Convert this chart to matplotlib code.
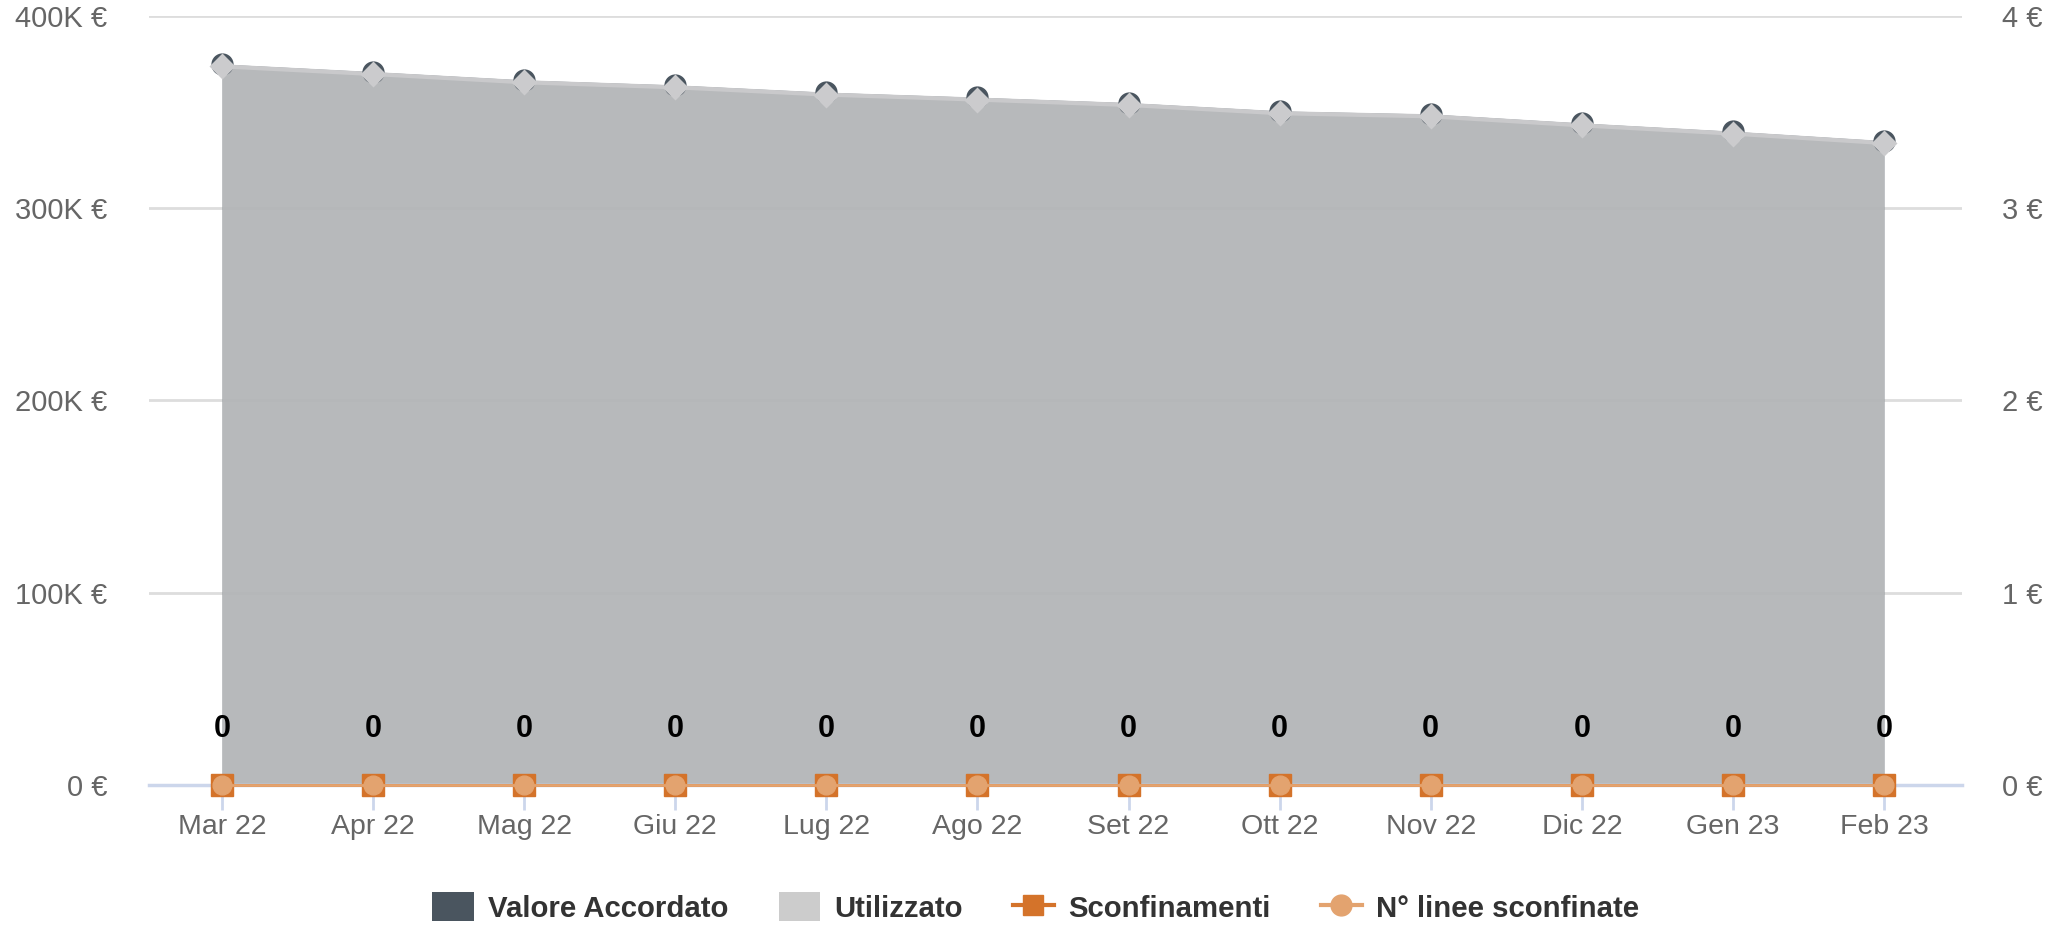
import numpy as np
import matplotlib.pyplot as plt
from matplotlib.patches import Patch
from matplotlib.lines import Line2D

plt.rcParams['font.family'] = ['Liberation Sans', 'DejaVu Sans']

# Dati
mesi = ['Mar 22', 'Apr 22', 'Mag 22', 'Giu 22', 'Lug 22', 'Ago 22',
        'Set 22', 'Ott 22', 'Nov 22', 'Dic 22', 'Gen 23', 'Feb 23']
valore_accordato = [375000, 371000, 366700, 364100, 360300, 357700,
                    354900, 350600, 349000, 344300, 340000, 335100]
utilizzato = [373800, 369800, 365500, 362900, 359100, 356500,
              353700, 349400, 347800, 343100, 338800, 333900]
sconfinamenti = [0, 0, 0, 0, 0, 0, 0, 0, 0, 0, 0, 0]
linee_sconfinate = [0, 0, 0, 0, 0, 0, 0, 0, 0, 0, 0, 0]

y_ticks = [0, 100000, 200000, 300000, 400000]
y_labels = ['0 €', '100K €', '200K €', '300K €', '400K €']
y2_ticks = [0, 1, 2, 3, 4]
y2_labels = ['0 €', '1 €', '2 €', '3 €', '4 €']

# Colori
c_valore = '#4a555f'
c_util = '#cccccc'
c_sconf = '#d4732a'
c_linee = '#e3a36f'
c_testo = '#666666'
c_asse = '#ccd6eb'

fig = plt.figure(figsize=(20.72, 9.27), dpi=100)
ax = fig.add_axes([0.0719, 0.1532, 0.875, 0.8296])
ax2 = ax.twinx()

x = np.arange(len(mesi))

# Aree
ax.fill_between(x, valore_accordato, color=c_valore, alpha=0.72, lw=0, zorder=2)
ax.fill_between(x, utilizzato, color=c_util, alpha=0.75, lw=0, zorder=3)
ax.plot(x, utilizzato, color='#c9c9cb', lw=3, zorder=4)
ax.plot(x, valore_accordato, ls='none', marker='o', ms=15, mfc=c_valore,
        mec=c_valore, zorder=5, clip_on=False)
ax.plot(x, utilizzato, ls='none', marker='D', ms=13, mfc='#cbcbcd',
        mec='none', zorder=6, clip_on=False)

# Sconfinamenti e linee sconfinate (asse destro)
ax2.plot(x, sconfinamenti, color=c_sconf, lw=2, marker='s', ms=15.5,
         mfc=c_sconf, mec=c_sconf, zorder=5, clip_on=False)
ax2.plot(x, linee_sconfinate, color=c_linee, lw=2, marker='o', ms=13.5,
         mfc=c_linee, mec=c_linee, zorder=6, clip_on=False)
for xi, v in zip(x, linee_sconfinate):
    ax2.annotate(f'{v}', (xi, v), xytext=(0, 40), textcoords='offset points',
                 ha='center', va='center', fontsize=22, fontweight='bold',
                 color='black', zorder=7)

# Assi
ax.set_xlim(-0.483, 11.516)
ax.set_ylim(0, 400000)
ax2.set_ylim(0, 4)
ax.set_xticks(x)
ax.set_xticklabels(mesi)
ax.set_yticks(y_ticks)
ax.set_yticklabels(y_labels)
ax2.set_yticks(y2_ticks)
ax2.set_yticklabels(y2_labels)

ax.grid(axis='y', color='#dddddd', lw=2)
ax.set_axisbelow(True)
for a in (ax, ax2):
    for s in a.spines.values():
        s.set_visible(False)
ax2.spines['bottom'].set_visible(True)
ax2.spines['bottom'].set_color(c_asse)
ax2.spines['bottom'].set_linewidth(2.5)
ax2.spines['bottom'].set_zorder(1)

ax.tick_params(axis='x', colors=c_asse, length=18, width=2, pad=3,
               labelsize=20.5, labelcolor=c_testo)
ax.tick_params(axis='y', length=0, pad=30, labelsize=21, labelcolor=c_testo)
ax2.tick_params(axis='y', length=0, pad=29, labelsize=21, labelcolor=c_testo)

ax.set_zorder(ax2.get_zorder() - 1)
ax2.patch.set_visible(False)

# Legenda
handles = [
    Patch(facecolor=c_valore, edgecolor='none', label='Valore Accordato'),
    Patch(facecolor=c_util, edgecolor='none', label='Utilizzato'),
    Line2D([], [], color=c_sconf, lw=3, marker='s', ms=15, label='Sconfinamenti'),
    Line2D([], [], color=c_linee, lw=3, marker='o', ms=15, label='N° linee sconfinate'),
]
fig.legend(handles=handles, loc='center', bbox_to_anchor=(0.5, 0.021), ncol=4,
           frameon=False, prop={'size': 21.2, 'weight': 'bold'},
           labelcolor='#333333', handlelength=1.4, handleheight=1.1,
           handletextpad=0.49, columnspacing=1.7)

fig.savefig('out.png', dpi=100)
